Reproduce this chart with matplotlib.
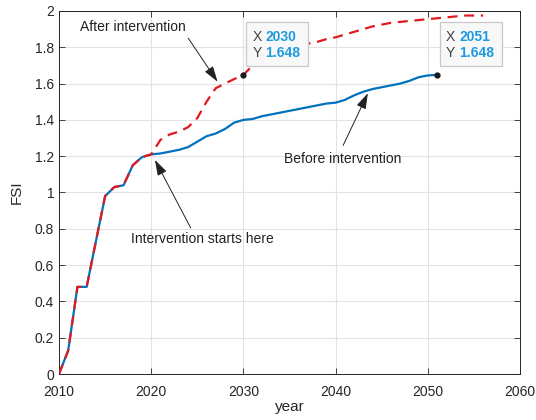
import matplotlib
matplotlib.use("Agg")
import matplotlib.pyplot as plt
from matplotlib.patches import Rectangle

plt.rcParams['font.family'] = ['Liberation Sans', 'DejaVu Sans']

# FSI before intervention (yearly)
years_before = list(range(2010, 2052))
fsi_before = [0.0, 0.13, 0.48, 0.48, 0.73, 0.98, 1.03, 1.04, 1.15, 1.195, 1.21,
              1.215, 1.225, 1.235, 1.25, 1.28, 1.31, 1.325, 1.35, 1.385, 1.40,
              1.405, 1.42, 1.43, 1.44, 1.45, 1.46, 1.47, 1.48, 1.49, 1.495,
              1.51, 1.535, 1.555, 1.57, 1.58, 1.59, 1.60, 1.615, 1.635, 1.645, 1.648]

# FSI after intervention (starts 2020)
years_after = list(range(2010, 2057))
fsi_after = [0.0, 0.13, 0.48, 0.48, 0.73, 0.98, 1.03, 1.04, 1.15, 1.195, 1.21,
             1.29, 1.32, 1.335, 1.36, 1.41, 1.50, 1.575, 1.60, 1.625, 1.648,
             1.70, 1.73, 1.76, 1.78, 1.80, 1.81, 1.82, 1.83, 1.845, 1.855,
             1.87, 1.885, 1.90, 1.915, 1.925, 1.935, 1.94, 1.945, 1.95, 1.955,
             1.96, 1.965, 1.97, 1.975, 1.975, 1.975]

# data tips (x, y)
tip_x = [2030, 2051]
tip_y = [1.648, 1.648]

blue = '#0072BD'
red = '#e3191f'

fig = plt.figure(figsize=(5.36, 4.2), dpi=100)
ax = fig.add_axes([59 / 536, 1 - 374 / 420, 461 / 536, 363 / 420])

ax.plot(years_before, fsi_before, color=blue, lw=1.6, zorder=3)
ax.plot(years_after, fsi_after, color=red, lw=1.6, dashes=(4.5, 3), zorder=4)

ax.set_xlim(2010, 2060)
ax.set_ylim(0, 2)
ax.set_xticks(range(2010, 2061, 10))
ax.set_yticks([0, 0.2, 0.4, 0.6, 0.8, 1, 1.2, 1.4, 1.6, 1.8, 2])
ax.set_yticklabels(['0', '0.2', '0.4', '0.6', '0.8', '1', '1.2', '1.4', '1.6', '1.8', '2'])
ax.grid(True, color='#e3e3e3', lw=0.8)
ax.set_axisbelow(True)
ax.tick_params(direction='in', length=4, top=True, right=True,
               labelsize=10, colors='#262626', width=0.6)
ax.tick_params(axis='x', pad=8)
for s in ax.spines.values():
    s.set_color('#262626')
    s.set_linewidth(0.7)

ax.set_xlabel('year', fontsize=11, color='#262626', labelpad=1)
ax.set_ylabel('FSI', fontsize=11, color='#262626', labelpad=8)

# text arrows
arrow = dict(arrowstyle='-|>,head_length=0.8,head_width=0.25', color='#222222',
             lw=0.7, mutation_scale=12, shrinkA=1, shrinkB=0)
ax.annotate('After intervention', xy=(2027.2, 1.61), xytext=(2018.0, 1.91),
            ha='center', va='center', fontsize=10, color='#222222',
            arrowprops=dict(arrow, relpos=(1.0, 0.0)))
ax.annotate('Intervention starts here', xy=(2020.4, 1.18), xytext=(2025.6, 0.744),
            ha='center', va='center', fontsize=10, color='#222222',
            arrowprops=dict(arrow, relpos=(0.43, 1.0)))
ax.annotate('Before intervention', xy=(2043.5, 1.547), xytext=(2040.8, 1.185),
            ha='center', va='center', fontsize=10, color='#222222',
            arrowprops=dict(arrow, relpos=(0.475, 1.0), shrinkA=3))

# data tips: dot plus a box drawn in pixel offsets from the point
for x, y in zip(tip_x, tip_y):
    ax.plot(x, y, 'o', color='#1a1a1a', ms=3.5, zorder=6)
    px, py = ax.transData.transform((x, y))
    fig.patches.append(Rectangle((px + 3, py + 9), 62, 44, transform=None,
                                 facecolor='#f8f8f8', edgecolor='#c8c8c8', lw=0.9,
                                 zorder=7))
    fig.text(px + 9, py + 9 + 29, 'X', transform=None, fontsize=10,
             color='#404040', va='center', zorder=8)
    fig.text(px + 22, py + 9 + 29, str(x), transform=None, fontsize=10,
             color='#1d9be0', fontweight='bold', va='center', zorder=8)
    fig.text(px + 9, py + 9 + 13, 'Y', transform=None, fontsize=10,
             color='#404040', va='center', zorder=8)
    fig.text(px + 22, py + 9 + 13, f'{y:.3f}', transform=None, fontsize=10,
             color='#1d9be0', fontweight='bold', va='center', zorder=8)

fig.savefig('out.png', dpi=100)
